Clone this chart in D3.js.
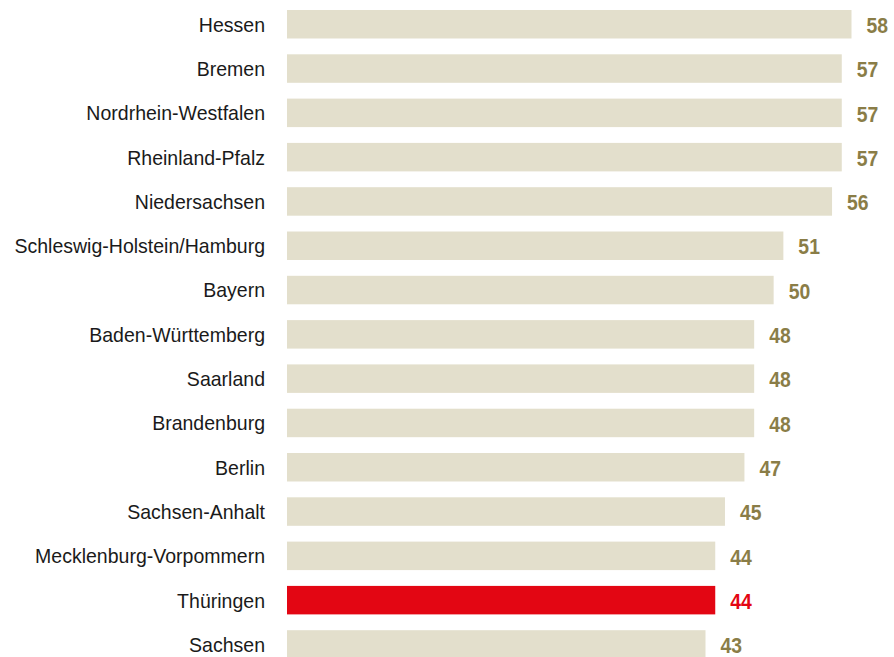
<!DOCTYPE html>
<html>
<head>
<meta charset="utf-8">
<script src="https://cdn.jsdelivr.net/npm/d3@7"></script>
<style>
  html, body { margin: 0; padding: 0; background: #fff; }
  svg text { font-family: "Liberation Sans", Arial, sans-serif; }
</style>
</head>
<body>
<svg id="chart" width="894" height="657"></svg>
<script>
const states = [
    "Hessen", "Bremen", "Nordrhein-Westfalen", "Rheinland-Pfalz", "Niedersachsen",
    "Schleswig-Holstein/Hamburg", "Bayern", "Baden-Württemberg", "Saarland",
    "Brandenburg", "Berlin", "Sachsen-Anhalt", "Mecklenburg-Vorpommern",
    "Thüringen", "Sachsen"
];
const values = [58, 57, 57, 57, 56, 51, 50, 48, 48, 48, 47, 45, 44, 44, 43];
const highlight = "Thüringen";

const svg = d3.select("#chart");

const x = d3.scaleLinear()
    .domain([0, 58])
    .range([287, 851.5]);

// step ~44.3px, bar ~28.5px, first bar top at y=10
const y = d3.scaleBand()
    .domain(states)
    .range([2.1, 666.6])
    .paddingInner(0.357)
    .paddingOuter(0.1785);

const rows = svg.selectAll("g.row")
    .data(states)
    .enter()
    .append("g")
    .attr("class", "row");

rows.append("rect")
    .attr("x", x(0))
    .attr("y", d => y(d))
    .attr("width", (d, i) => x(values[i]) - x(0))
    .attr("height", y.bandwidth())
    .attr("fill", d => d === highlight ? "#e30613" : "#e3dfcc");

// state names (slightly condensed like the original)
rows.append("text")
    .attr("transform", d => `translate(${x(0) - 22},${y(d) + y.bandwidth() / 2}) scale(0.93,1)`)
    .attr("dy", "0.35em")
    .attr("text-anchor", "end")
    .attr("font-size", 21)
    .attr("fill", "#1a1a1a")
    .text(d => d);

// values
rows.append("text")
    .attr("transform", (d, i) => `translate(${x(values[i]) + 15},${y(d) + y.bandwidth() / 2 + 1}) scale(0.88,1)`)
    .attr("dy", "0.35em")
    .attr("font-size", 22)
    .attr("font-weight", "bold")
    .attr("fill", d => d === highlight ? "#e30613" : "#8a7d47")
    .text((d, i) => values[i]);
</script>
</body>
</html>
